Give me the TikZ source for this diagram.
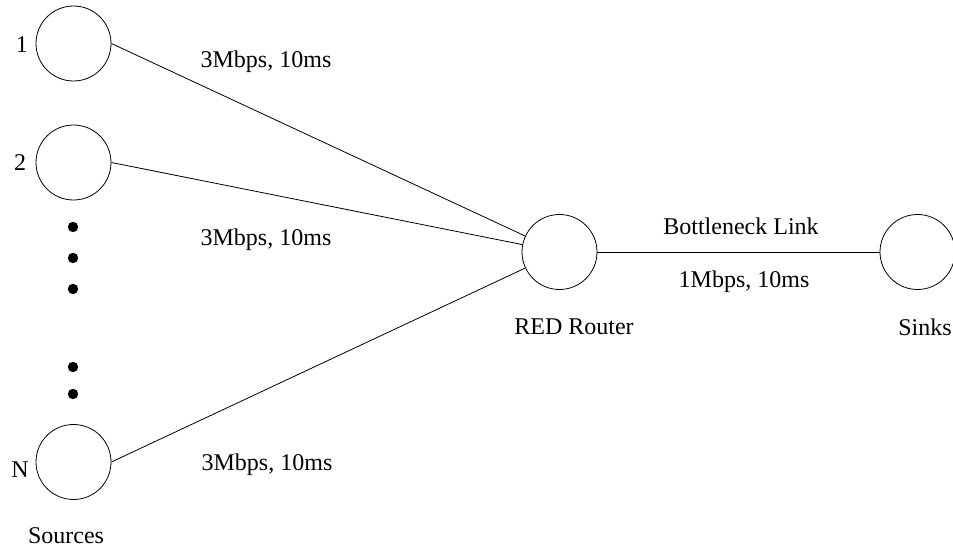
\documentclass[tikz,border=0pt]{standalone}
\usepackage{fontspec}
\setmainfont{Liberation Serif}
\usetikzlibrary{positioning}

\begin{document}
\begin{tikzpicture}[x=0.5pt,y=-0.5pt,font=\fontsize{12}{14}\selectfont]%
        \tikzstyle{host} = [draw,circle,minimum size=37.5pt,inner sep=0pt]
        \tikzstyle{annot} = [inner sep=0pt]
        \tikzstyle{link} = [thin]

        \useasboundingbox (0,0) rectangle (953,549);

        \node[host] (src1) at (73.5,43.5) {};
        \node[host] (src2) at (73.5,162.5) {};
        \node[host] (srcN) at (73.5,462) {};
        \node[host] (router) at (559.5,252) {};
        \node[host] (sink) at (917.5,252) {};

        \foreach \y in {227, 258, 289, 367, 394}{
          \fill (73,\y) circle (2.6pt);
        }

        \node[annot] at (22,45) {1};
        \node[annot] at (20,163) {2};
        \node[annot] at (20,470) {N};
        \node[annot] at (66,536) {Sources};
        \node[annot] at (574,327) {RED Router};
        \node[annot] at (925,327) {Sinks};

        \draw[link] (src1.east) -- (router);
        \draw[link] (src2.east) -- (router);
        \draw[link] (srcN.east) -- (router);
        \draw[link] (router.east) -- (sink.west);

        \node[annot] at (266,62) {3Mbps, 10ms};
        \node[annot] at (266,240) {3Mbps, 10ms};
        \node[annot] at (267,465) {3Mbps, 10ms};
        \node[annot] at (741,226) {Bottleneck Link};
        \node[annot] at (744,282) {1Mbps, 10ms};
      \end{tikzpicture}
\end{document}
